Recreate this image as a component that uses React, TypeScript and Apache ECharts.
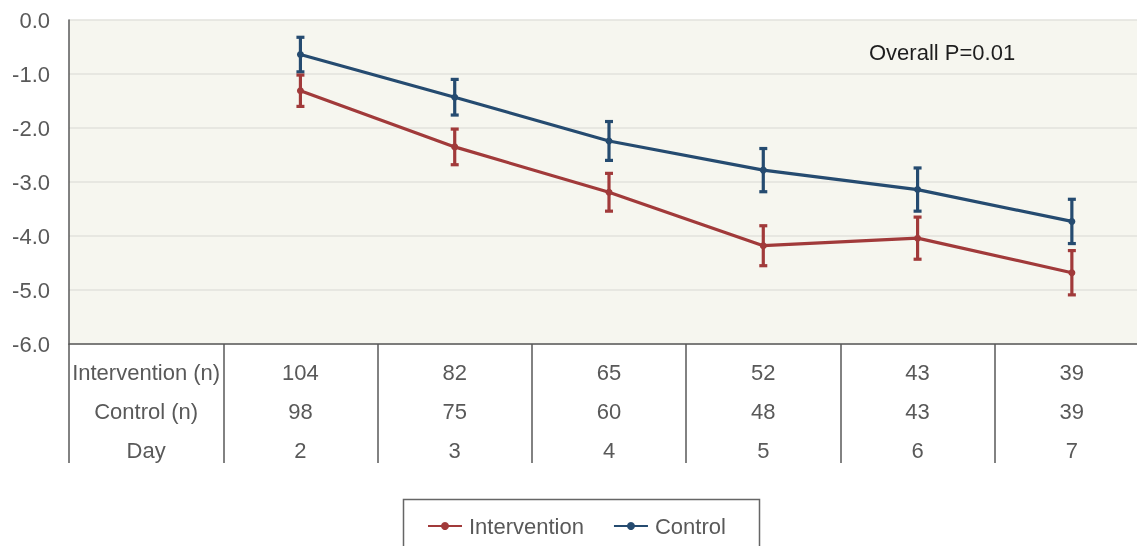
import React, { useEffect, useRef } from "react";
import * as echarts from "echarts";

// Table rows under the plot
const tableRowLabels = ["Intervention (n)", "Control (n)", "Day"];
const days = ["2", "3", "4", "5", "6", "7"];
const interventionN = [104, 82, 65, 52, 43, 39];
const controlN = [98, 75, 60, 48, 43, 39];

// Mean change and error half-widths per day
const interventionMean = [-1.31, -2.35, -3.19, -4.18, -4.04, -4.68];
const interventionErr = [0.29, 0.33, 0.35, 0.37, 0.39, 0.41];
const controlMean = [-0.64, -1.43, -2.24, -2.78, -3.14, -3.73];
const controlErr = [0.32, 0.33, 0.36, 0.4, 0.4, 0.41];

const yTicks = { min: -6, max: 0, interval: 1 };
const pValueText = "Overall P=0.01";

const RED = "#a13a3a";
const BLUE = "#254b70";
const GREY_TEXT = "#595959";
const FONT = "'Liberation Sans', Arial, sans-serif";
const FONT_SIZE = 22;

// First category is the label column of the table
const categories = ["labels", ...days];

function errorBarSeries(name: string, means: number[], errs: number[], color: string) {
  const data = means.map((m, i) => [i + 1, m - errs[i], m + errs[i]]);
  return {
    type: "custom",
    name: name + " error",
    data,
    z: 3,
    renderItem: (params: any, api: any) => {
      const x = api.value(0);
      const lo = api.coord([x, api.value(1)]);
      const hi = api.coord([x, api.value(2)]);
      const cap = 4;
      const style = { stroke: color, lineWidth: 3.2 };
      return {
        type: "group",
        children: [
          { type: "line", shape: { x1: hi[0], y1: hi[1], x2: lo[0], y2: lo[1] }, style },
          { type: "line", shape: { x1: hi[0] - cap, y1: hi[1], x2: hi[0] + cap, y2: hi[1] }, style },
          { type: "line", shape: { x1: lo[0] - cap, y1: lo[1], x2: lo[0] + cap, y2: lo[1] }, style },
        ],
      };
    },
  };
}

function lineSeries(name: string, means: number[], color: string) {
  return {
    type: "line",
    name,
    data: [null, ...means],
    symbol: "circle",
    symbolSize: 7,
    z: 4,
    itemStyle: { color },
    lineStyle: { color, width: 3.2 },
  };
}

export default function App() {
  const ref = useRef<HTMLDivElement>(null);

  useEffect(() => {
    if (!ref.current) return;
    const chart = echarts.init(ref.current, undefined, { renderer: "svg" });
    chart.setOption({
      animation: false,
      textStyle: { fontFamily: FONT },
      grid: {
        left: 69,
        top: 20,
        width: 1080,
        height: 324,
        show: true,
        backgroundColor: "#f6f6ef",
        borderWidth: 0,
      },
      xAxis: {
        type: "category",
        data: categories,
        boundaryGap: true,
        axisLine: { show: true, onZero: false, lineStyle: { color: GREY_TEXT, width: 1.5 } },
        axisTick: {
          show: true,
          interval: 0,
          length: 119,
          lineStyle: { color: GREY_TEXT, width: 1.5 },
        },
        axisLabel: {
          interval: 0,
          margin: 9,
          color: GREY_TEXT,
          fontSize: FONT_SIZE,
          lineHeight: 39,
          fontFamily: FONT,
          formatter: (_v: string, idx: number) =>
            idx === 0
              ? tableRowLabels.join("\n")
              : `${interventionN[idx - 1]}\n${controlN[idx - 1]}\n${days[idx - 1]}`,
        },
        splitLine: { show: false },
      },
      yAxis: {
        type: "value",
        min: yTicks.min,
        max: yTicks.max,
        interval: yTicks.interval,
        axisLine: { show: true, lineStyle: { color: GREY_TEXT, width: 1.5 } },
        axisTick: { show: false },
        axisLabel: {
          color: GREY_TEXT,
          fontSize: FONT_SIZE,
          margin: 19,
          fontFamily: FONT,
          formatter: (v: number) => v.toFixed(1),
        },
        splitLine: { show: true, lineStyle: { color: "#e2e2dc", width: 1.5 } },
      },
      legend: {
        data: ["Intervention", "Control"],
        left: 422,
        top: 510,
        itemWidth: 34,
        itemHeight: 10,
        itemGap: 29,
        textStyle: {
          color: GREY_TEXT,
          fontSize: FONT_SIZE,
          fontFamily: FONT,
          padding: [0, 0, 0, 2],
        },
      },
      graphic: [
        {
          type: "rect",
          shape: { x: 403.5, y: 499.5, width: 356, height: 80 },
          style: { fill: "none", stroke: "#666", lineWidth: 1.5 },
          silent: true,
        },
        {
          type: "text",
          x: 869,
          y: 52,
          style: {
            text: pValueText,
            fill: "#1e1e1e",
            fontSize: FONT_SIZE,
            fontFamily: FONT,
            textVerticalAlign: "middle",
          },
        },
      ],
      series: [
        errorBarSeries("Control", controlMean, controlErr, BLUE),
        errorBarSeries("Intervention", interventionMean, interventionErr, RED),
        lineSeries("Intervention", interventionMean, RED),
        lineSeries("Control", controlMean, BLUE),
      ],
    });
    return () => chart.dispose();
  }, []);

  // The drawing surface runs slightly past the window's right edge,
  // so the last table column is cut off like the plot itself.
  return (
    <div
      ref={ref}
      style={{ position: "fixed", left: 0, top: 0, width: 1160, height: 546 }}
    />
  );
}
